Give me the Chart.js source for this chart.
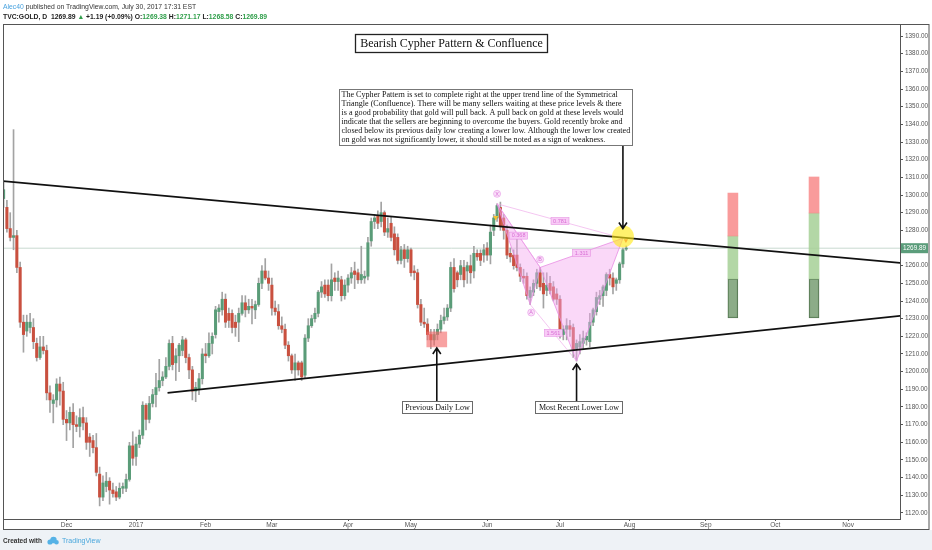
<!DOCTYPE html>
<html>
<head>
<meta charset="utf-8">
<title>Bearish Cypher Pattern &amp; Confluence</title>
<script src="https://cdn.jsdelivr.net/npm/chart.js@4.4.1/dist/chart.umd.min.js"></script>
<style>
  html, body { margin: 0; padding: 0; background: #fff; }
  #chart { display: block; }
</style>
</head>
<body>
<canvas id="chart" width="932" height="550"></canvas>
<script>
// TVC:GOLD daily bars, 4 Nov 2016 .. 31 Jul 2017 (one bar per index)
var opens = [
  1298, 1293, 1281, 1276, 1277, 1259, 1228, 1223, 1225, 1225, 1216, 1208, 1214, 1212, 1188, 1182, 1184, 1193, 1189,
  1173, 1171, 1177, 1170, 1169, 1174, 1171, 1163, 1161, 1157, 1142, 1129, 1135, 1138, 1133, 1132, 1129, 1134, 1134, 1139, 1158,
  1152, 1159, 1164, 1181, 1173, 1182, 1187, 1191, 1195, 1197, 1203, 1216, 1205, 1209, 1212, 1218, 1208, 1201, 1189, 1190, 1196,
  1210, 1209, 1216, 1221, 1234, 1235, 1241, 1233, 1233, 1228, 1228, 1233, 1239, 1235, 1237, 1235, 1238, 1250, 1257, 1253,
  1249, 1236, 1234, 1226, 1224, 1215, 1209, 1201, 1205, 1205, 1198, 1219, 1226, 1230, 1233, 1245, 1249, 1249, 1243, 1253, 1251, 1252, 1243,
  1249, 1253, 1257, 1256, 1252, 1253, 1254, 1274, 1285, 1288, 1285, 1290, 1279, 1284, 1278, 1276, 1263, 1269, 1264,
  1269, 1257, 1256, 1238, 1228, 1227, 1221, 1218, 1221, 1224, 1229, 1231, 1236, 1259, 1256, 1255, 1259, 1257, 1260, 1257, 1267, 1267, 1266,
  1270, 1266, 1280, 1287, 1293, 1287, 1280, 1267, 1266, 1266, 1259, 1254, 1254, 1242, 1245, 1250, 1256, 1250, 1246, 1250, 1248, 1244,
  1241, 1221, 1224, 1226, 1225, 1213, 1214, 1216, 1218, 1217, 1228, 1234, 1241, 1243, 1246, 1255, 1253, 1250, 1252, 1261, 1269.38
];
var highs = [
  1308, 1297, 1290, 1337, 1280, 1262, 1232, 1232, 1233, 1230, 1219, 1220, 1220, 1215, 1192, 1187, 1196, 1197, 1194,
  1178, 1180, 1182, 1175, 1179, 1180, 1174, 1165, 1164, 1165, 1146, 1141, 1143, 1140, 1137, 1135, 1137, 1137, 1142, 1160, 1166,
  1163, 1167, 1183, 1182, 1186, 1190, 1199, 1207, 1200, 1208, 1218, 1220, 1213, 1216, 1220, 1219, 1210, 1203, 1194, 1199, 1213,
  1216, 1222, 1222, 1237, 1238, 1245, 1244, 1236, 1235, 1232, 1236, 1243, 1243, 1241, 1241, 1240, 1253, 1260, 1264, 1257,
  1253, 1240, 1238, 1231, 1227, 1217, 1210, 1210, 1206, 1206, 1221, 1230, 1232, 1236, 1246, 1251, 1252, 1252, 1261, 1256, 1257, 1254, 1252,
  1255, 1259, 1262, 1258, 1271, 1257, 1276, 1287, 1289, 1291, 1296, 1291, 1287, 1288, 1282, 1278, 1271, 1272, 1271,
  1270, 1260, 1258, 1241, 1236, 1230, 1224, 1224, 1227, 1232, 1236, 1238, 1262, 1264, 1257, 1263, 1263, 1262, 1266, 1271, 1269, 1269, 1272,
  1273, 1283, 1289, 1295, 1296, 1289, 1283, 1270, 1269, 1275, 1261, 1258, 1256, 1248, 1252, 1258, 1259, 1256, 1256, 1254, 1251, 1247,
  1243, 1226, 1230, 1229, 1227, 1218, 1221, 1223, 1222, 1233, 1236, 1245, 1246, 1249, 1256, 1258, 1256, 1253, 1262, 1270, 1271.17
];
var lows = [
  1293, 1279, 1274, 1269, 1256, 1225, 1211, 1220, 1222, 1213, 1206, 1207, 1210, 1184, 1177, 1171, 1180, 1181, 1170,
  1161, 1167, 1157, 1166, 1163, 1167, 1156, 1152, 1154, 1141, 1124, 1127, 1132, 1125, 1129, 1127, 1128, 1131, 1132, 1138, 1147,
  1147, 1157, 1162, 1167, 1171, 1180, 1180, 1189, 1192, 1196, 1201, 1201, 1195, 1200, 1209, 1205, 1196, 1184, 1183, 1187, 1193,
  1205, 1208, 1210, 1219, 1228, 1232, 1225, 1225, 1222, 1220, 1217, 1232, 1231, 1233, 1227, 1230, 1237, 1247, 1252, 1246,
  1232, 1232, 1224, 1222, 1213, 1206, 1199, 1195, 1198, 1195, 1196, 1217, 1225, 1228, 1231, 1242, 1242, 1240, 1240, 1246, 1246, 1240, 1241,
  1245, 1250, 1247, 1250, 1250, 1250, 1252, 1271, 1281, 1281, 1282, 1277, 1276, 1274, 1266, 1261, 1261, 1259, 1262,
  1254, 1252, 1236, 1226, 1225, 1218, 1213, 1215, 1218, 1222, 1227, 1229, 1234, 1245, 1248, 1252, 1248, 1250, 1250, 1253, 1263, 1260, 1262,
  1263, 1261, 1277, 1285, 1280, 1275, 1264, 1262, 1258, 1257, 1251, 1250, 1241, 1238, 1243, 1247, 1246, 1236, 1243, 1244, 1240, 1238,
  1219, 1218, 1218, 1220, 1208, 1206, 1210, 1213, 1215, 1214, 1226, 1232, 1238, 1237, 1243, 1249, 1244, 1246, 1250, 1259, 1268.58
];
var closes = [
  1303, 1281, 1276, 1277, 1259, 1228, 1221, 1228, 1228, 1217, 1208, 1214, 1212, 1188, 1184, 1184, 1193, 1189, 1173,
  1171, 1177, 1170, 1169, 1174, 1171, 1160, 1160, 1157, 1143, 1129, 1137, 1138, 1133, 1131, 1129, 1134, 1135, 1139, 1158, 1151,
  1159, 1164, 1181, 1173, 1182, 1187, 1191, 1195, 1197, 1203, 1216, 1204, 1209, 1215, 1218, 1208, 1201, 1189, 1191, 1196, 1210,
  1209, 1216, 1220, 1235, 1236, 1241, 1228, 1229, 1225, 1225, 1233, 1239, 1235, 1237, 1236, 1238, 1250, 1257, 1253, 1250,
  1236, 1234, 1226, 1224, 1215, 1209, 1201, 1205, 1201, 1197, 1219, 1226, 1230, 1233, 1245, 1248, 1244, 1243, 1252, 1251, 1253, 1243, 1249,
  1253, 1256, 1255, 1252, 1255, 1254, 1273, 1285, 1287, 1284, 1290, 1279, 1281, 1276, 1269, 1263, 1269, 1264, 1269,
  1256, 1256, 1238, 1228, 1227, 1221, 1218, 1221, 1224, 1229, 1231, 1236, 1259, 1247, 1252, 1260, 1252, 1260, 1256, 1267, 1265, 1263, 1269,
  1266, 1279, 1287, 1294, 1282, 1280, 1266, 1265, 1260, 1259, 1254, 1253, 1243, 1246, 1250, 1256, 1248, 1244, 1249, 1246, 1241, 1241,
  1224, 1224, 1226, 1224, 1212, 1216, 1217, 1219, 1220, 1228, 1235, 1242, 1243, 1248, 1255, 1253, 1248, 1252, 1261, 1269, 1269.89
];

// time axis: bar index of the first bar of each month
var monthTicks = [19, 40, 61, 81, 104, 123, 146, 168, 189, 212, 233, 255];
var monthLabels = ['Dec', '2017', 'Feb', 'Mar', 'Apr', 'May', 'Jun', 'Jul', 'Aug', 'Sep', 'Oct', 'Nov'];
var priceTicks = [1120, 1130, 1140, 1150, 1160, 1170, 1180, 1190, 1200, 1210, 1220, 1230, 1240, 1250,
  1260, 1270, 1280, 1290, 1300, 1310, 1320, 1330, 1340, 1350, 1360, 1370, 1380, 1390];

// symmetrical triangle
var upperTrendX = [-1, 272];
var upperTrendY = [1308.0, 1261.3];
var lowerTrendX = [49.5, 272];
var lowerTrendY = [1188.0, 1231.8];

// cypher pattern X A B C D
var cypherNames = ['X', 'A', 'B', 'C', 'D'];
var cypherX = [149, 159, 162, 173, 187];
var cypherY = [1295, 1238, 1259, 1206, 1275.5];
var cypherRatios = [[0, 2, '0.368'], [1, 3, '1.561'], [2, 4, '1.311'], [0, 4, '0.781']];

// long / short position tools on the right
var positionX = [220.2, 244.7];
var stopZone = [[1276.8, 1301.1], [1289.8, 1310.2]];
var targetZone = [[1252.5, 1276.8], [1252.5, 1289.8]];
var entryZone = [[1230.4, 1252.5], [1230.4, 1252.5]];

// "previous daily low" highlight
var prevLowX = 130.8;
var prevLowZone = [1214.0, 1222.5];

var lastPrice = 1269.89;
var completionPoint = { x: 187, y: 1276.5 };

var noteLines = [
  'The Cypher Pattern is set to complete right at the upper trend line of the Symmetrical',
  'Triangle (Confluence). There will be many sellers waiting at these price levels & there',
  'is a good probability that gold will pull back. A pull back on gold at these levels would',
  'indicate that the sellers are beginning to overcome the buyers. Gold recently broke and',
  'closed below its previous daily low creating a lower low. Although the lower low created',
  'on gold was not significantly lower, it should still be noted as a sign of weakness.'
];

var UP = '#5a9c78';
var DOWN = '#c9503f';

function pairs(xs, ys) {
  return xs.map(function (x, i) { return { x: x, y: ys[i] }; });
}

function arrow(ctx, x, yFrom, yTo) {
  var dir = yTo > yFrom ? 1 : -1;
  ctx.beginPath();
  ctx.moveTo(x, yFrom);
  ctx.lineTo(x, yTo);
  ctx.moveTo(x - 4, yTo - dir * 6);
  ctx.lineTo(x, yTo);
  ctx.lineTo(x + 4, yTo - dir * 6);
  ctx.stroke();
}

function labelBox(ctx, text, x, y, w, h) {
  ctx.fillStyle = '#ffffff';
  ctx.fillRect(x, y, w, h);
  ctx.strokeStyle = '#6a6a6a';
  ctx.lineWidth = 1;
  ctx.strokeRect(x, y, w, h);
  ctx.fillStyle = '#111';
  ctx.font = '8px "Liberation Serif", serif';
  ctx.textAlign = 'center';
  ctx.textBaseline = 'middle';
  ctx.fillText(text, x + w / 2, y + h / 2 + 0.5);
}

function segments(ctx, x, y, segs) {
  segs.forEach(function (s) {
    ctx.fillStyle = s[1];
    ctx.fillText(s[0], x, y);
    x += ctx.measureText(s[0]).width;
  });
  return x;
}

var decor = {
  id: 'decor',
  beforeDraw: function (chart) {
    var ctx = chart.ctx;
    ctx.save();
    ctx.fillStyle = '#ffffff';
    ctx.fillRect(0, 0, chart.width, chart.height);
    ctx.fillStyle = '#eef2f6';
    ctx.fillRect(0, 530, chart.width, chart.height - 530);
    ctx.restore();
  },
  afterDraw: function (chart) {
    var ctx = chart.ctx;
    var xs = chart.scales.x;
    var ys = chart.scales.y;
    var area = chart.chartArea;
    ctx.save();

    // frame
    ctx.strokeStyle = '#555';
    ctx.lineWidth = 1;
    ctx.strokeRect(3.5, 24.5, 925.5, 505);

    // header
    ctx.textAlign = 'left';
    ctx.textBaseline = 'middle';
    ctx.font = '6.8px "Liberation Sans", Arial, sans-serif';
    segments(ctx, 3, 7, [['Alec40', '#4aa3df'], [' published on TradingView.com, July 30, 2017 17:31 EST', '#333']]);
    ctx.font = 'bold 6.8px "Liberation Sans", Arial, sans-serif';
    var g = '#2f9e4a';
    segments(ctx, 3, 17, [['TVC:GOLD, D  1269.89 ', '#222'], ['\u25B2', g], [' +1.19 (+0.09%) ', '#222'],
      ['O:', '#222'], ['1269.38', g], [' H:', '#222'], ['1271.17', g], [' L:', '#222'], ['1268.58', g],
      [' C:', '#222'], ['1269.89', g]]);

    // title
    ctx.fillStyle = '#fff';
    ctx.fillRect(355.5, 34.5, 192, 18);
    ctx.strokeStyle = '#222';
    ctx.lineWidth = 1.3;
    ctx.strokeRect(355.5, 34.5, 192, 18);
    ctx.fillStyle = '#111';
    ctx.font = '12px "Liberation Serif", serif';
    ctx.textAlign = 'center';
    ctx.fillText('Bearish Cypher Pattern & Confluence', 451.5, 44);

    // note
    ctx.fillStyle = '#fff';
    ctx.fillRect(339.5, 89.5, 293, 56);
    ctx.strokeStyle = '#777';
    ctx.lineWidth = 1;
    ctx.strokeRect(339.5, 89.5, 293, 56);
    var size = 8.2;
    ctx.font = size + 'px "Liberation Serif", serif';
    var widest = Math.max.apply(null, noteLines.map(function (l) { return ctx.measureText(l).width; }));
    while (widest > 289 && size > 6) {
      size -= 0.1;
      ctx.font = size + 'px "Liberation Serif", serif';
      widest = Math.max.apply(null, noteLines.map(function (l) { return ctx.measureText(l).width; }));
    }
    ctx.fillStyle = '#111';
    ctx.textAlign = 'left';
    noteLines.forEach(function (l, i) {
      ctx.fillText(l, 341.5, 95 + i * 8.9);
    });

    // arrows
    ctx.strokeStyle = '#111';
    ctx.lineWidth = 1.6;
    var cx = xs.getPixelForValue(completionPoint.x);
    arrow(ctx, cx, 146, ys.getPixelForValue(completionPoint.y) - 8);
    var px = xs.getPixelForValue(prevLowX);
    arrow(ctx, px, 401, ys.getPixelForValue(prevLowZone[0]) + 1);
    var lx = xs.getPixelForValue(cypherX[3]);
    arrow(ctx, lx, 401, ys.getPixelForValue(cypherY[3]) + 3);
    labelBox(ctx, 'Previous Daily Low', 402.5, 401.5, 70, 12);
    labelBox(ctx, 'Most Recent Lower Low', 535.5, 401.5, 87, 12);

    // cypher ratio tags and point letters
    ctx.font = '5.5px "Liberation Sans", Arial, sans-serif';
    ctx.textAlign = 'center';
    ctx.textBaseline = 'middle';
    cypherRatios.forEach(function (r) {
      var mx = (xs.getPixelForValue(cypherX[r[0]]) + xs.getPixelForValue(cypherX[r[1]])) / 2;
      var my = (ys.getPixelForValue(cypherY[r[0]]) + ys.getPixelForValue(cypherY[r[1]])) / 2;
      ctx.fillStyle = 'rgba(248,200,246,0.95)';
      ctx.fillRect(mx - 9, my - 3.5, 18, 7);
      ctx.strokeStyle = 'rgba(228,140,225,0.9)';
      ctx.lineWidth = 0.6;
      ctx.strokeRect(mx - 9, my - 3.5, 18, 7);
      ctx.fillStyle = '#d86fd4';
      ctx.fillText(r[2], mx, my + 0.3);
    });
    [[0, -10], [1, 8], [2, -8]].forEach(function (p) {
      var x = xs.getPixelForValue(cypherX[p[0]]) + (p[0] === 1 ? 1 : 0);
      var y = ys.getPixelForValue(cypherY[p[0]]) + p[1];
      ctx.beginPath();
      ctx.arc(x, y, 3.5, 0, Math.PI * 2);
      ctx.fillStyle = 'rgba(250,220,250,0.9)';
      ctx.fill();
      ctx.strokeStyle = 'rgba(228,140,225,0.9)';
      ctx.lineWidth = 0.6;
      ctx.stroke();
      ctx.fillStyle = '#d86fd4';
      ctx.fillText(cypherNames[p[0]], x, y + 0.3);
    });

    // last price tag on the axis
    var py = ys.getPixelForValue(lastPrice);
    ctx.fillStyle = '#5b9d7b';
    ctx.fillRect(area.right + 1, py - 5, 27, 10);
    ctx.fillStyle = '#fff';
    ctx.font = '6.4px "Liberation Sans", Arial, sans-serif';
    ctx.textAlign = 'left';
    ctx.fillText(lastPrice.toFixed(2), area.right + 3, py + 0.5);

    // footer
    ctx.font = 'bold 6.5px "Liberation Sans", Arial, sans-serif';
    var fx = segments(ctx, 3, 541, [['Created with', '#333']]) + 5;
    ctx.fillStyle = '#55b2e6';
    ctx.beginPath();
    ctx.arc(fx + 3, 542, 2.6, 0, Math.PI * 2);
    ctx.arc(fx + 6.5, 540, 3.2, 0, Math.PI * 2);
    ctx.arc(fx + 9.5, 542.3, 2.3, 0, Math.PI * 2);
    ctx.fill();
    ctx.font = '7px "Liberation Sans", Arial, sans-serif';
    ctx.fillStyle = '#4aa7dc';
    ctx.fillText('TradingView', fx + 15, 541);

    ctx.restore();
  }
};

var wickData = lows.map(function (l, i) { return { x: i, y: [l, highs[i]] }; });
var bodyData = opens.map(function (o, i) { return { x: i, y: [o, closes[i]] }; });
var bodyColors = opens.map(function (o, i) { return closes[i] >= o ? UP : DOWN; });

function zone(vals, i) { return { x: positionX[i], y: vals[i] }; }

new Chart(document.getElementById('chart'), {
  type: 'bar',
  data: {
    datasets: [
      {
        type: 'line', data: [completionPoint], showLine: false, order: 0,
        pointRadius: 11, pointBackgroundColor: 'rgba(255,232,20,0.62)', pointBorderWidth: 0
      },
      {
        type: 'line', data: [{ x: 148.6, y: 1287.2 }], showLine: false, order: 1,
        pointStyle: 'triangle', rotation: 180, pointRadius: 3, pointBackgroundColor: '#f2c230', pointBorderWidth: 0
      },
      {
        type: 'line', data: [{ x: 187.9, y: 1274.3 }], showLine: false, order: 1,
        pointStyle: 'triangle', rotation: 180, pointRadius: 2.5, pointBackgroundColor: '#ef6a6a', pointBorderWidth: 0
      },
      {
        type: 'line', data: pairs(upperTrendX, upperTrendY), order: 2,
        borderColor: '#111', borderWidth: 1.7, pointRadius: 0
      },
      {
        type: 'line', data: pairs(lowerTrendX, lowerTrendY), order: 2,
        borderColor: '#111', borderWidth: 1.7, pointRadius: 0
      },
      {
        data: [{ x: prevLowX, y: prevLowZone }], order: 3, grouped: false,
        barThickness: 20, backgroundColor: 'rgba(243,105,105,0.62)', borderWidth: 0
      },
      {
        data: [zone(stopZone, 0), zone(stopZone, 1)], order: 3, grouped: false,
        barThickness: 10, backgroundColor: 'rgba(248,130,130,0.8)', borderWidth: 0
      },
      {
        data: [zone(targetZone, 0), zone(targetZone, 1)], order: 3, grouped: false,
        barThickness: 10, backgroundColor: 'rgba(166,208,150,0.85)', borderWidth: 0
      },
      {
        data: [zone(entryZone, 0), zone(entryZone, 1)], order: 3, grouped: false,
        barThickness: 10, backgroundColor: 'rgba(120,158,115,0.85)', borderColor: '#4f6e4d',
        borderWidth: 0.8, borderSkipped: false
      },
      {
        type: 'line', order: 4, pointRadius: 0, borderWidth: 0.8, borderColor: 'rgba(236,160,232,0.75)',
        data: [{ x: cypherX[0], y: cypherY[0] }, { x: cypherX[2], y: cypherY[2] }]
      },
      {
        type: 'line', order: 4, pointRadius: 0, borderWidth: 0.8, borderColor: 'rgba(236,160,232,0.75)',
        data: [{ x: cypherX[1], y: cypherY[1] }, { x: cypherX[3], y: cypherY[3] }]
      },
      {
        type: 'line', order: 4, pointRadius: 0, borderWidth: 0.8, borderColor: 'rgba(236,160,232,0.75)',
        data: [{ x: cypherX[0], y: cypherY[0] }, { x: cypherX[4], y: cypherY[4] }]
      },
      {
        type: 'line', order: 5, pointRadius: 0, borderWidth: 1, tension: 0,
        borderColor: 'rgba(232,140,228,0.8)', backgroundColor: 'rgba(244,168,240,0.45)', fill: 'shape',
        data: [0, 1, 2, 0].map(function (k) { return { x: cypherX[k], y: cypherY[k] }; })
      },
      {
        type: 'line', order: 5, pointRadius: 0, borderWidth: 1, tension: 0,
        borderColor: 'rgba(232,140,228,0.8)', backgroundColor: 'rgba(244,168,240,0.45)', fill: 'shape',
        data: [2, 3, 4, 2].map(function (k) { return { x: cypherX[k], y: cypherY[k] }; })
      },
      {
        data: bodyData, order: 6, grouped: false, barThickness: 2.4, minBarLength: 1,
        backgroundColor: bodyColors, borderWidth: 0
      },
      {
        data: wickData, order: 7, grouped: false, barThickness: 1,
        backgroundColor: '#a3a3a3', borderWidth: 0
      },
      {
        type: 'line', order: 8, pointRadius: 0, borderWidth: 1, borderColor: '#c9d9d0',
        data: [{ x: -1, y: lastPrice }, { x: 272, y: lastPrice }]
      }
    ]
  },
  options: {
    responsive: false,
    animation: false,
    events: [],
    layout: { autoPadding: false, padding: { left: 3, right: 3, top: 24, bottom: 20 } },
    plugins: { legend: { display: false }, tooltip: { enabled: false } },
    scales: {
      x: {
        type: 'linear',
        min: -0.18,
        max: 270.66,
        offset: false,
        afterBuildTicks: function (scale) {
          scale.ticks = monthTicks.map(function (v) { return { value: v }; });
        },
        afterFit: function (scale) { scale.height = 11; },
        ticks: {
          autoSkip: false, maxRotation: 0, padding: 0, color: '#555',
          font: { size: 6.5, family: '"Liberation Sans", Arial, sans-serif' },
          callback: function (v, i) { return monthLabels[i]; }
        },
        grid: { offset: false, drawOnChartArea: false, drawTicks: true, tickLength: 2, color: '#555' },
        border: { display: true, color: '#555' }
      },
      y: {
        type: 'linear',
        position: 'right',
        min: 1116.6,
        max: 1396.8,
        afterBuildTicks: function (scale) {
          scale.ticks = priceTicks.map(function (v) { return { value: v }; });
        },
        afterFit: function (scale) { scale.width = 29; },
        ticks: {
          padding: 2, color: '#555',
          font: { size: 6.4, family: '"Liberation Sans", Arial, sans-serif' },
          callback: function (v) { return Number(v).toFixed(2); }
        },
        grid: { drawOnChartArea: false, drawTicks: true, tickLength: 3, color: '#555' },
        border: { display: true, color: '#555' }
      }
    }
  },
  plugins: [decor]
});
</script>
</body>
</html>
